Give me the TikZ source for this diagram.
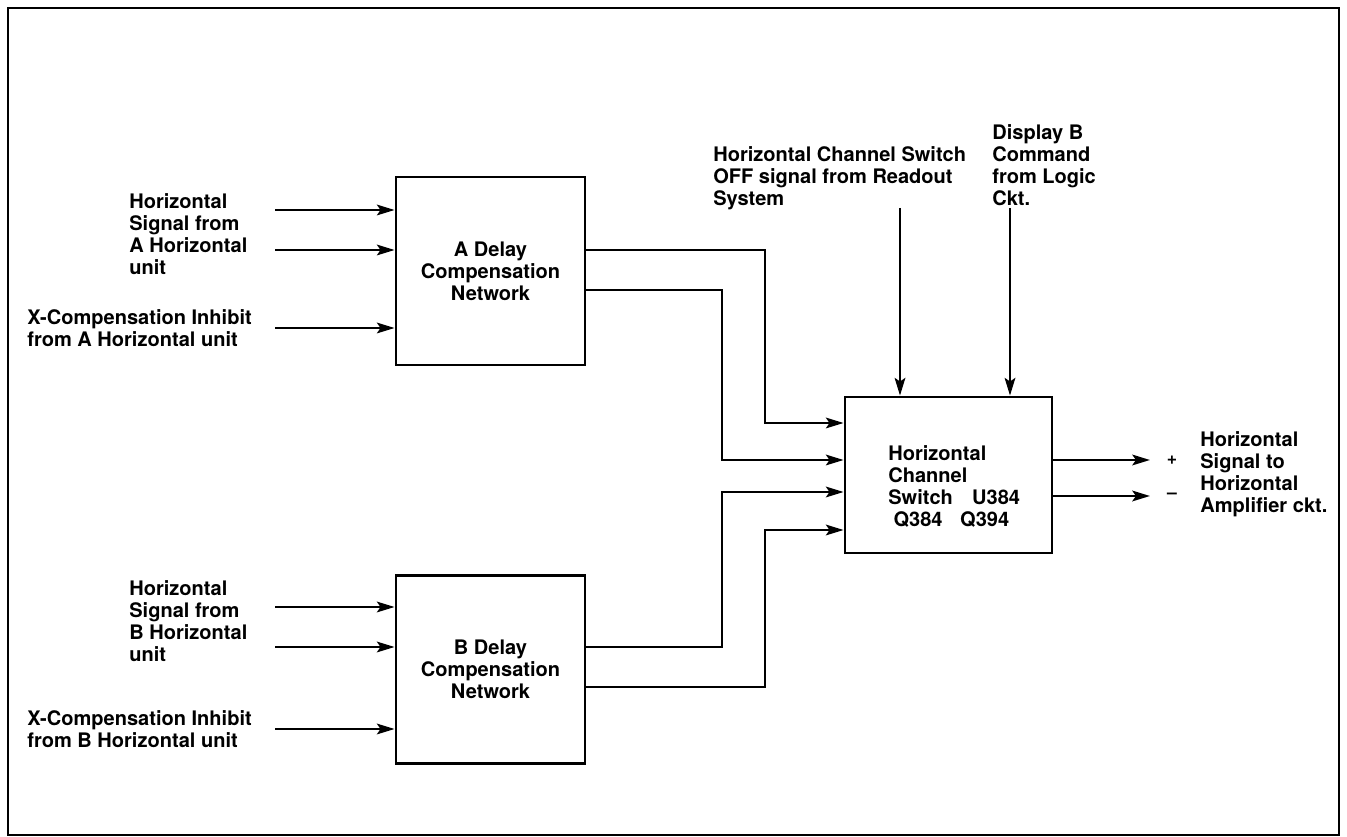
\documentclass[tikz,border=0pt]{standalone}
\usepackage{fontspec}
\setmainfont{TeX Gyre Heros}
\usetikzlibrary{positioning, arrows.meta, calc}

\begin{document}
\begin{tikzpicture}[x=0.02cm, y=-0.02cm, blk/.style={draw, line width=1.6pt, minimum width=3.78cm, minimum height=3.76cm, align=center, inner sep=0pt, font=\fontsize{11.4}{12.5}\selectfont\bfseries},lbl/.style={align=left, inner sep=0pt, anchor=north west, font=\fontsize{11.4}{12.5}\selectfont\bfseries},sig/.style={line width=1.6pt, -{Stealth[length=10pt, width=6pt, inset=2pt]}}]
\useasboundingbox (0,0) rectangle (1347,837);
\draw[line width=1.6pt] (8,8) rectangle (1339,835);
% delay networks and channel switch
\node[blk] (dlyA) at (490.5,271) {A Delay\\Compensation\\Network};
\node[blk, below=4.16cm of dlyA] (dlyB) {B Delay\\Compensation\\Network};
\node[blk, minimum width=4.14cm, minimum height=3.12cm] (chsw) at (948.5,475) {};
\node[lbl] (chswTxt) at (888,445) {Horizontal\\Channel\\Switch\hspace{11pt}U384\\\hspace{3pt}Q384\hspace{10pt}Q394};
% inputs, A side
\coordinate (inA1) at (275,210);
\coordinate (inA2) at (275,250);
\coordinate (inA3) at (275,328);
\node[lbl] (txtA1) at (129,193) {Horizontal\\Signal from\\A Horizontal\\unit};
\node[lbl] (txtA2) at (27,309) {X-Compensation Inhibit\\from A Horizontal unit};
\foreach \c in {inA1, inA2, inA3} \draw[sig] (\c) -- (dlyA.west |- \c);
% inputs, B side
\coordinate (inB1) at (275,607);
\coordinate (inB2) at (275,647);
\coordinate (inB3) at (275,729);
\node[lbl] (txtB1) at (129,580) {Horizontal\\Signal from\\B Horizontal\\unit};
\node[lbl] (txtB2) at (27,710) {X-Compensation Inhibit\\from B Horizontal unit};
\foreach \c in {inB1, inB2, inB3} \draw[sig] (\c) -- (dlyB.west |- \c);
% network outputs into the switch
\draw[sig] (dlyA.east |- 0,250) -| (765,423) -- (chsw.west |- 0,423);
\draw[sig] (dlyA.east |- 0,290) -| (722,460) -- (chsw.west |- 0,460);
\draw[sig] (dlyB.east |- 0,647) -| (722,492) -- (chsw.west |- 0,492);
\draw[sig] (dlyB.east |- 0,687) -| (765,530) -- (chsw.west |- 0,530);
% control inputs
\coordinate (offIn) at (900,208);
\coordinate (dispIn) at (1010,208);
\node[lbl] (txtOff) at (713,146) {Horizontal Channel Switch\\OFF signal from Readout\\System};
\node[lbl] (txtDisp) at (992,124) {Display B\\Command\\from Logic\\Ckt.};
\draw[sig] (offIn) -- (offIn |- chsw.north);
\draw[sig] (dispIn) -- (dispIn |- chsw.north);
% outputs
\coordinate (outP) at (1150,460);
\coordinate (outM) at (1150,496);
\draw[sig] (chsw.east |- outP) -- (outP);
\draw[sig] (chsw.east |- outM) -- (outM);
\node[font=\bfseries] (plus) at (1172,460) {+};
\node[font=\bfseries] (minus) at (1172,496) {--};
\node[lbl] (txtOut) at (1200,431) {Horizontal\\Signal to\\Horizontal\\Amplifier ckt.};
\end{tikzpicture}
\end{document}
